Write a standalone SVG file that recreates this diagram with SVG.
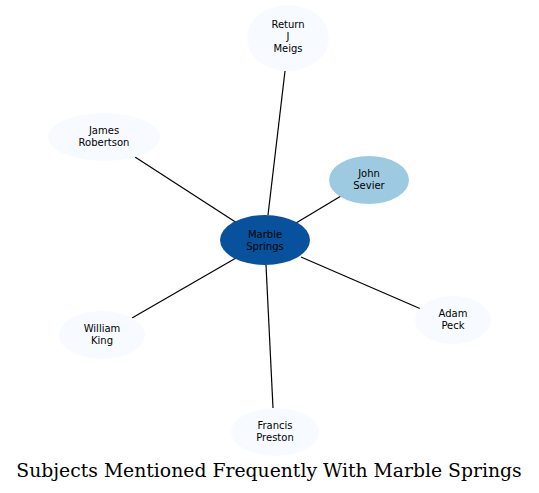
<svg xmlns="http://www.w3.org/2000/svg" width="539" height="493" viewBox="0 0 539 493">
<style>
.n{font-family:"DejaVu Sans",sans-serif;font-size:10px;text-anchor:middle;fill:#000}
.e{stroke:#000;stroke-width:1.2;fill:none}
.light{fill:#f7fbff}
.title{font-family:"DejaVu Serif",serif;font-size:18.8px;text-anchor:middle;fill:#000}
</style>
<rect width="539" height="493" fill="#fff"/>
<g id="connectors">
<path class="e" d="M268,215L285,71"/>
<path class="e" d="M296,223L341,196"/>
<path class="e" d="M237,223L135,157"/>
<path class="e" d="M236,258L132,318"/>
<path class="e" d="M301,257L421,309"/>
<path class="e" d="M266,265L273,408"/>
</g>
<g id="marble_springs"><ellipse cx="265" cy="240" rx="45" ry="25" fill="#08519c"/><text class="n" x="265" y="238">Marble</text><text class="n" x="265" y="250">Springs</text></g>
<g id="john_sevier"><ellipse cx="369" cy="180" rx="40" ry="24" fill="#9ecae1"/><text class="n" x="369" y="177">John</text><text class="n" x="369" y="189">Sevier</text></g>
<g id="return_j_meigs"><ellipse class="light" cx="288" cy="38" rx="41" ry="33"/><text class="n" x="288" y="28">Return</text><text class="n" x="288" y="40">J</text><text class="n" x="288" y="52">Meigs</text></g>
<g id="james_robertson"><ellipse class="light" cx="104" cy="137" rx="56" ry="24"/><text class="n" x="104" y="134">James</text><text class="n" x="104" y="146">Robertson</text></g>
<g id="william_king"><ellipse class="light" cx="102" cy="335" rx="43" ry="24"/><text class="n" x="102" y="332">William</text><text class="n" x="102" y="344">King</text></g>
<g id="adam_peck"><ellipse class="light" cx="453" cy="320" rx="38" ry="24"/><text class="n" x="453" y="317">Adam</text><text class="n" x="453" y="329">Peck</text></g>
<g id="francis_preston"><ellipse class="light" cx="275" cy="432" rx="44" ry="24"/><text class="n" x="275" y="429">Francis</text><text class="n" x="275" y="441">Preston</text></g>
<text class="title" x="269" y="477">Subjects Mentioned Frequently With Marble Springs</text>
</svg>
